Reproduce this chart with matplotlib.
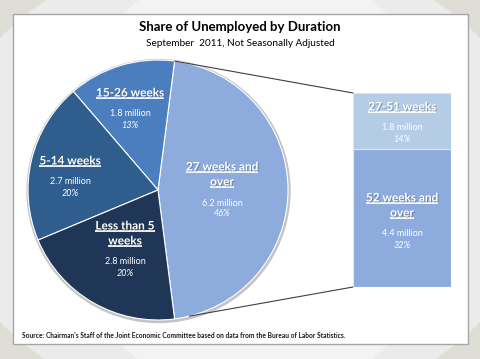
import matplotlib.pyplot as plt
import matplotlib.patheffects as pe
from matplotlib.patches import Rectangle, Ellipse, Circle, ConnectionPatch
import numpy as np

plt.rcParams['font.family'] = ['Lato', 'DejaVu Sans']

# pie: 27+ weeks first, then counter-clockwise
pie_titles = [['27 weeks and', 'over'], ['15-26 weeks'], ['5-14 weeks'], ['Less than 5', 'weeks']]
pie_values = [6.2, 1.8, 2.7, 2.8]
pie_pcts = ['46%', '13%', '20%', '20%']
pie_colors = ['#8DABDC', '#4A7EBF', '#2F5D8E', '#1F3657']

# breakdown bar of the 27+ weeks slice (bottom to top)
bar_titles = [['52 weeks and', 'over'], ['27-51 weeks']]
bar_values = [4.4, 1.8]
bar_pcts = ['32%', '14%']
bar_colors = ['#8DABDC', '#B4CCE6']

title = 'Share of Unemployed by Duration'
subtitle = 'September  2011, Not Seasonally Adjusted'
source = "Source: Chairman's Staff of the Joint Economic Committee based on data from the Bureau of Labor Statistics."

W, H = 480, 359
fig = plt.figure(figsize=(W / 100, H / 100), dpi=100)
fig.patch.set_facecolor('#DEDED6')
ax = fig.add_axes([0, 0, 1, 1])


def Y(y):
    return H - y


# slide background
ax.add_patch(Ellipse((240, Y(180)), 600, 470, color='#EBEBEB', zorder=0))
ax.add_patch(Ellipse((255, Y(180)), 400, 440, color='#F3F3F3', zorder=0))
ax.add_patch(Rectangle((13, Y(344)), 455, 330, facecolor='white', edgecolor='#A6A6A6', lw=1, zorder=1))

cx, cy, r = 158, Y(190), 130
ax.add_patch(Circle((cx + 0.5, cy - 1), r + 1.5, color='#C4C4C4', zorder=2))
total = sum(pie_values)
start = -pie_values[0] / total * 180
wedges, _ = ax.pie(pie_values, colors=pie_colors, startangle=start, counterclock=True,
                   center=(cx, cy), radius=r,
                   wedgeprops=dict(edgecolor='white', linewidth=0.8, zorder=3))
ax.set_xlim(0, W)
ax.set_ylim(0, H)
ax.axis('off')

# bar of pie
bax = fig.add_axes([353 / W, (H - 287) / H, 98 / W, 194 / H])
bottom = 0
for v, c in zip(bar_values, bar_colors):
    bax.bar(0, v, bottom=bottom, width=1, color=c, edgecolor='#DCE6F2', lw=0.8)
    bottom += v
bax.set_xlim(-0.5, 0.5)
bax.set_ylim(0, sum(bar_values))
bax.axis('off')

a_top = np.radians(wedges[0].theta2)
a_bot = np.radians(-76)
for ang, yb in [(a_top, sum(bar_values)), (a_bot, 0)]:
    con = ConnectionPatch(xyA=(cx + r * np.cos(ang), cy + r * np.sin(ang)), coordsA=ax.transData,
                          xyB=(-0.5, yb), coordsB=bax.transData, color='#404040', lw=0.8)
    fig.add_artist(con)

# overlay for all text
tax = fig.add_axes([0, 0, 1, 1], zorder=5)
tax.set_xlim(0, W)
tax.set_ylim(0, H)
tax.axis('off')

shadow = [pe.SimplePatchShadow(offset=(0.8, -0.8), shadow_rgbFace='#404040', alpha=0.35), pe.Normal()]
titles_drawn = []


def label_block(x, y, lines, value, pct, tsize=8.5):
    for i, ln in enumerate(lines):
        t = tax.text(x, Y(y + i * 15), ln, color='white', fontsize=tsize, fontweight='bold',
                     ha='center', va='center', path_effects=shadow)
        titles_drawn.append(t)
    yy = y + (len(lines) - 1) * 15
    tax.text(x, Y(yy + 21), f'{value} million', color='white', fontsize=6.5,
             ha='center', va='center')
    tax.text(x, Y(yy + 32), pct, color='white', fontsize=6.5, style='italic',
             ha='center', va='center')


pie_pos = [(222, 167), (130, 93), (70, 161), (125, 226)]
for (x, y), t, v, p in zip(pie_pos, pie_titles, pie_values, pie_pcts):
    label_block(x, y, t, v, p)
bar_pos = [(402, 198), (402, 107)]
for (x, y), t, v, p in zip(bar_pos, bar_titles, bar_values, bar_pcts):
    label_block(x, y, t, v, p)

tax.text(240, Y(27), title, fontsize=9.5, fontweight='bold', ha='center', va='center', color='black')
tax.text(240, Y(44), subtitle, fontsize=7.2, ha='center', va='center', color='black')
tax.text(22, Y(335), source, fontsize=4.8, fontweight='bold', ha='left', va='center', color='#1A1A1A')

# underline the white titles
fig.canvas.draw()
inv = tax.transData.inverted()
for t in titles_drawn:
    bb = t.get_window_extent()
    (x0, y0), (x1, _) = inv.transform([(bb.x0, bb.y0), (bb.x1, bb.y1)])
    tax.plot([x0, x1], [y0 + 0.5, y0 + 0.5], color='white', lw=1.3,
             solid_capstyle='butt', path_effects=shadow)

fig.savefig('out.png', dpi=100)
